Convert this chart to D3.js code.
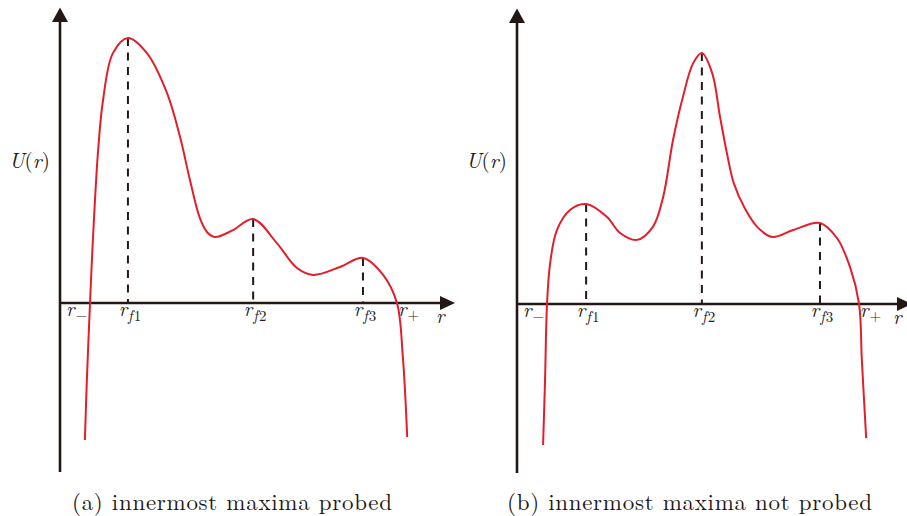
<!DOCTYPE html>
<html>
<head>
<meta charset="utf-8">
<script src="https://cdn.jsdelivr.net/npm/d3@7"></script>
<style>
  body { margin: 0; background: #fff; }
  svg { display: block; }
</style>
</head>
<body>
<div id="chart"></div>
<script>
// Potential U(r) sketches, r runs 0..100 along the axis, U in arbitrary units
const leftR = [6.3, 6.8, 7.6, 8.2, 9.6, 10.9, 13.4, 17.2, 22.0, 27.1, 30.4, 32.9, 35.4, 37.2, 39.2, 43.8, 48.9, 54.9, 60.0, 64.1, 70.9, 76.7, 81.8, 85.3, 86.8, 87.9]
const leftU = [-51.7, -29.1, 0, 20.0, 56.6, 76.6, 94.3, 100, 94.3, 79.2, 62.6, 46.4, 32.1, 26.8, 24.9, 27.5, 31.7, 22.6, 13.2, 10.6, 13.6, 17.0, 10.6, 0, -20.4, -50.6]
const leftMaxima = [17.2, 48.9, 76.7]
const leftRoots = [7.6, 85.3]

const rightR = [6.6, 7.1, 7.6, 8.4, 10.1, 13.4, 17.5, 22.8, 26.1, 30.4, 34.4, 37.0, 39.5, 42.0, 44.6, 46.8, 49.4, 51.4, 53.2, 54.9, 57.7, 60.8, 64.6, 69.9, 76.7, 81.0, 84.3, 86.6, 87.3, 88.4]
const rightU = [-53.2, -28.7, 0, 15.5, 27.9, 35.5, 37.7, 32.8, 26.8, 24.2, 29.1, 40.4, 61.9, 78.1, 90.9, 94.7, 87.2, 70.6, 56.5, 45.5, 36.0, 29.1, 25.3, 27.9, 30.6, 24.9, 14.0, 0, -21.1, -50.6]
const rightMaxima = [17.5, 46.8, 76.7]
const rightRoots = [7.6, 86.6]

const maximaSubs = ['1', '2', '3']
const rootSubs = ['\u2212', '+']
const captions = ['(a) innermost maxima probed', '(b) innermost maxima not probed']

const width = 907
const height = 516
const ink = '#231815'
const red = '#e31e2b'
const serif = '"Latin Modern Roman", "CMU Serif", "Liberation Serif", serif'

const svg = d3.select('#chart').append('svg')
  .attr('width', width)
  .attr('height', height)

const panels = [
  { left: 60, axisY: 303, R: leftR, U: leftU, maxima: leftMaxima, roots: leftRoots, caption: captions[0], capX: 72, capW: 320, uX: 9 },
  { left: 517, axisY: 304, R: rightR, U: rightU, maxima: rightMaxima, roots: rightRoots, caption: captions[1], capX: 507, capW: 365, uX: 466 }
]

panels.forEach(p => {
  let x = d3.scaleLinear().domain([0, 100]).range([p.left, p.left + 395])
  let y = d3.scaleLinear().domain([0, 100]).range([p.axisY, p.axisY - 265])
  let g = svg.append('g')

  // axes with arrow heads
  g.append('line')
    .attr('x1', x(0)).attr('x2', x(0))
    .attr('y1', y(-63.8)).attr('y2', y(106))
    .attr('stroke', ink).attr('stroke-width', 2.6)
  g.append('path')
    .attr('d', `M${x(0)},${y(111.5)}L${x(0) - 8},${y(106)}L${x(0) + 8},${y(106)}Z`)
    .attr('fill', ink)
  g.append('line')
    .attr('x1', x(0)).attr('x2', x(96.2))
    .attr('y1', y(0)).attr('y2', y(0))
    .attr('stroke', ink).attr('stroke-width', 2.6)
  g.append('path')
    .attr('d', `M${x(100)},${y(0)}L${x(96.2)},${y(0) - 7}L${x(96.2)},${y(0) + 7}Z`)
    .attr('fill', ink)

  // dashed drop lines from the maxima
  p.maxima.forEach(m => {
    let u = p.U[p.R.indexOf(m)]
    g.append('line')
      .attr('x1', x(m)).attr('x2', x(m))
      .attr('y1', y(u)).attr('y2', y(0))
      .attr('stroke', ink).attr('stroke-width', 2)
      .attr('stroke-dasharray', '8,6.5')
  })

  // the potential curve
  let line = d3.line()
    .x((d, i) => x(p.R[i]))
    .y(d => y(d))
    .curve(d3.curveCatmullRom.alpha(0.5))
  g.append('path')
    .attr('d', line(p.U))
    .attr('fill', 'none')
    .attr('stroke', red)
    .attr('stroke-width', 2)

  // labels under the r axis
  let label = (xpos, sub, anchor, italicSub) => {
    let t = g.append('text')
      .attr('x', xpos).attr('y', y(0) + 13)
      .attr('font-family', serif).attr('font-size', 20)
      .attr('text-anchor', anchor).attr('fill', ink)
    t.append('tspan').attr('font-style', 'italic').text('r')
    if (italicSub) t.append('tspan').attr('font-size', 15).attr('dy', 5).attr('dx', 1).attr('font-style', 'italic').text(italicSub)
    t.append('tspan').attr('font-size', 15).attr('dy', italicSub ? 0 : 4).attr('dx', 1).text(sub)
  }
  p.maxima.forEach((m, i) => label(x(m) + 2, maximaSubs[i], 'middle', 'f'))
  label(x(0) + 6, rootSubs[0], 'start')
  label(x(p.roots[1]) + 1, rootSubs[1], 'start')

  g.append('text')
    .attr('x', x(100) - 19).attr('y', y(0) + 20)
    .attr('font-family', serif).attr('font-size', 20)
    .attr('font-style', 'italic').attr('fill', ink)
    .text('r')

  // U(r) axis title
  let ut = g.append('text')
    .attr('x', p.uX).attr('y', 168)
    .attr('font-family', serif).attr('font-size', 21).attr('fill', ink)
  ut.append('tspan').attr('font-style', 'italic').text('U')
  ut.append('tspan').text('(')
  ut.append('tspan').attr('font-style', 'italic').text('r')
  ut.append('tspan').text(')')

  // sub-figure caption
  g.append('text')
    .attr('x', p.capX).attr('y', 510)
    .attr('font-family', serif).attr('font-size', 23).attr('fill', ink)
    .attr('textLength', p.capW).attr('lengthAdjust', 'spacing')
    .text(p.caption)
})
</script>
</body>
</html>
